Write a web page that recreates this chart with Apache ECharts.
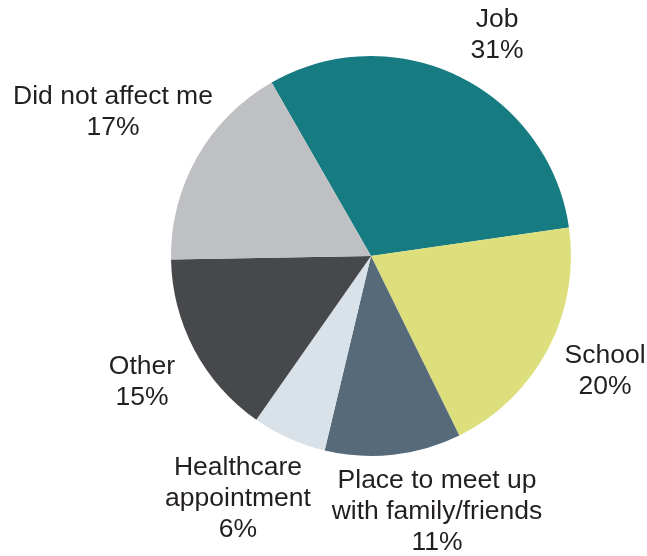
<!DOCTYPE html>
<html>
<head>
<meta charset="utf-8">
<script src="https://cdn.jsdelivr.net/npm/echarts@6/dist/echarts.min.js"></script>
<style>
  html, body { margin: 0; padding: 0; background: #fff; }
  #chart { width: 647px; height: 556px; }
</style>
</head>
<body>
<div id="chart"></div>
<script>
const categories = ['Job', 'School', 'Place to meet up\nwith family/friends', 'Healthcare\nappointment', 'Other', 'Did not affect me'];
const values = [31, 20, 11, 6, 15, 17];
const colors = ['#177b82', '#dddf7d', '#566a7a', '#d8e2e8', '#47484b', '#bfc0c4'];

// label block centres
const labelPos = [[497, 35], [605, 371], [437, 512], [238, 499], [142, 382], [113, 112]];

let myChart = echarts.init(document.getElementById('chart'));
myChart.setOption({
    animation: false,
    backgroundColor: '#fff',
    series: [{
        type: 'pie',
        center: [371, 256],
        radius: [0, 200],
        startAngle: 119.8,
        clockwise: true,
        silent: true,
        data: categories.map((name, i) => ({
            name: name,
            value: values[i],
            itemStyle: { color: colors[i] }
        })),
        label: {
            show: true,
            position: 'outside',
            formatter: '{b}\n{c}%',
            fontFamily: 'Liberation Sans, Arial, sans-serif',
            fontSize: 26.5,
            lineHeight: 31,
            color: '#231f20',
            align: 'center',
            overflow: 'none',
            width: null
        },
        labelLine: { show: false },
        labelLayout: function (params) {
            const p = labelPos[params.dataIndex];
            return {
                x: p[0],
                y: p[1],
                align: 'center',
                verticalAlign: 'middle'
            };
        }
    }]
});
</script>
</body>
</html>
